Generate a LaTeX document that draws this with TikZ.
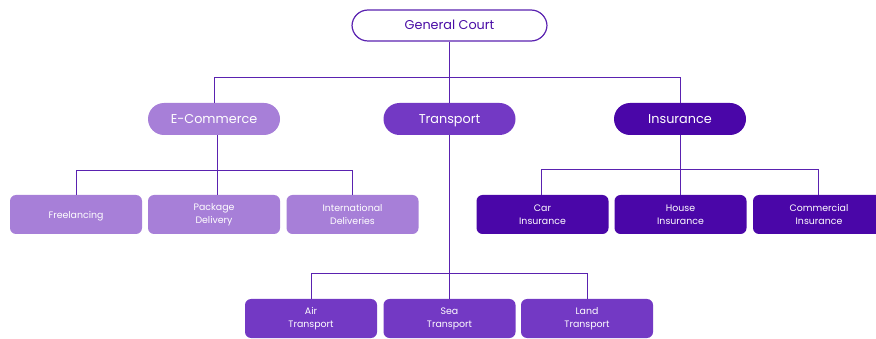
\documentclass[tikz,border=0pt]{standalone}
\usepackage{fontspec}
\setmainfont{Poppins}
\definecolor{ln}{HTML}{5A22B0}
\definecolor{ecom}{HTML}{A77FD8}
\definecolor{trans}{HTML}{7339C4}
\definecolor{ins}{HTML}{4A06A8}
\definecolor{gctext}{HTML}{4A0DA6}
\begin{document}
\begin{tikzpicture}[x=1pt,y=-1pt,
  pill/.style={rounded corners=16pt,minimum width=132pt,minimum height=32pt,inner sep=0pt,text height=9pt,text depth=0.5pt,font=\fontsize{12.8}{14}\selectfont,text=white},
  leaf/.style={rounded corners=6pt,minimum width=132pt,minimum height=39pt,inner sep=0pt,align=center,font=\fontsize{9.4}{13}\selectfont,text=white},
  conn/.style={draw=ln,line width=0.9pt}]
\useasboundingbox (0,0) rectangle (876,339);
\begin{scope}
\clip (0,0) rectangle (876,339);
\node[pill,draw=ln,line width=1.2pt,fill=white,text=gctext,minimum width=195pt,minimum height=31pt] (gc) at (449.5,25.5) {General Court};
\node[pill,fill=ecom] (ec) at (214,119) {E-Commerce};
\node[pill,fill=trans] (tr) at (449.5,119) {Transport};
\node[pill,fill=ins] (in) at (680,119) {Insurance};

\node[leaf,fill=ecom,text depth=0pt] (fr) at (76,214.5) {Freelancing};
\node[leaf,fill=ecom] (pd) at (214,214.5) {Package\\Delivery};
\node[leaf,fill=ecom] (id) at (352.5,214.5) {International\\Deliveries};

\node[leaf,fill=ins] (ci) at (542.5,214.5) {Car\\Insurance};
\node[leaf,fill=ins] (hi) at (680.5,214.5) {House\\Insurance};
\node[leaf,fill=ins] (co) at (819,214.5) {Commercial\\Insurance};

\node[leaf,fill=trans] (at) at (311,318.5) {Air\\Transport};
\node[leaf,fill=trans] (st) at (449.5,318.5) {Sea\\Transport};
\node[leaf,fill=trans] (lt) at (587,318.5) {Land\\Transport};

\coordinate (j0) at (449.5,77);
\draw[conn] (gc.south) -- (j0);
\draw[conn] (ec.north) |- (j0);
\draw[conn] (in.north) |- (j0);
\draw[conn] (tr.north) -- (j0);

\coordinate (j1) at (217,170);
\draw[conn] ([xshift=3pt]ec.south) -- (j1);
\draw[conn] (fr.north) |- (j1);
\draw[conn] (id.north) |- (j1);
\draw[conn] (j1) -- ([xshift=3pt]pd.north);

\coordinate (j2) at (680,169);
\draw[conn] (in.south) -- (j2);
\draw[conn] ([xshift=-1.5pt]ci.north) |- (j2);
\draw[conn] ([xshift=-1pt]co.north) |- (j2);
\draw[conn] (j2) -- ([xshift=-0.5pt]hi.north);

\coordinate (j3) at (449.5,273);
\draw[conn] (tr.south) -- (j3);
\draw[conn] (at.north) |- (j3);
\draw[conn] (lt.north) |- (j3);
\draw[conn] (j3) -- (st.north);
\end{scope}
\end{tikzpicture}
\end{document}
